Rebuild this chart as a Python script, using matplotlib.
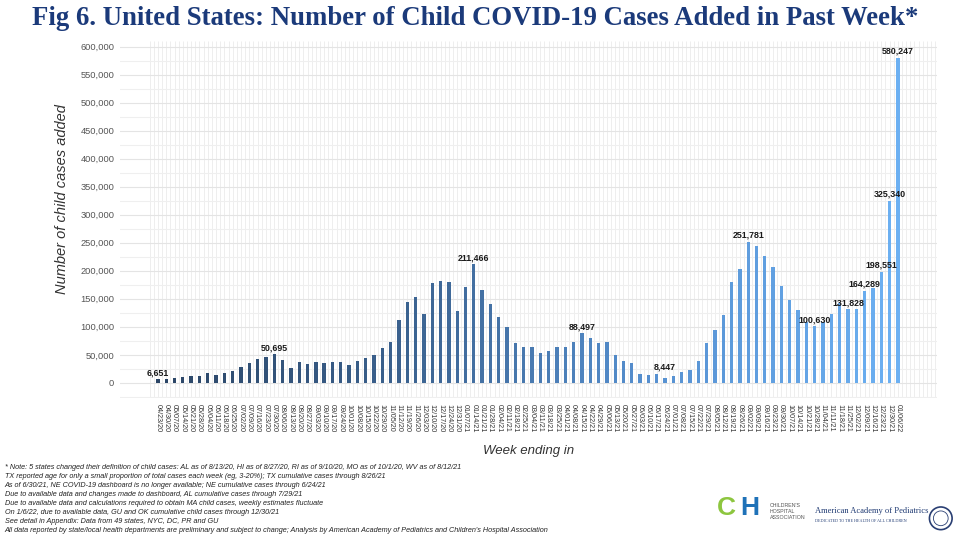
import numpy as np
import pandas as pd
import matplotlib
matplotlib.use("Agg")
import matplotlib.pyplot as plt
from matplotlib.colors import LinearSegmentedColormap
from matplotlib.transforms import ScaledTranslation
from matplotlib.patches import Circle

# weekly child cases added, week ending 04/23/20 .. 01/06/22
weeks = pd.date_range("2020-04-23", periods=90, freq="7D").strftime("%m/%d/%y").tolist()
cases = [6651, 7200, 9000, 9600, 11400, 12000, 17500, 13800, 18000, 22000,
         27700, 35000, 42000, 46000, 50695, 41500, 26000, 36700, 34000, 36400,
         35000, 37600, 36400, 32000, 39000, 43600, 49500, 61500, 73400, 111946,
         144500, 153000, 123600, 179000, 182000, 180000, 128000, 171000, 211466, 166000,
         140000, 117600, 99000, 70400, 64000, 64000, 52500, 56700, 64000, 64000,
         73400, 88497, 79400, 72000, 72800, 50000, 39700, 35000, 16000, 14400,
         16000, 8447, 11400, 19000, 23500, 39000, 72000, 95000, 121000, 180000,
         204000, 251781, 244800, 227000, 207000, 173700, 148000, 130700, 109000, 100630,
         109000, 122000, 141905, 131828, 132000, 164289, 169964, 198551, 325340, 580247]
labelled = [0, 14, 38, 51, 61, 71, 79, 83, 85, 87, 88, 89]

notes = [
    "* Note: 5 states changed their definition of child cases: AL as of 8/13/20, HI as of 8/27/20, RI as of 9/10/20, MO as of 10/1/20, WV as of 8/12/21",
    "TX reported age for only a small proportion of total cases each week (eg, 3-20%); TX cumulative cases through 8/26/21",
    "As of 6/30/21, NE COVID-19 dashboard is no longer available; NE cumulative cases through 6/24/21",
    "Due to available data and changes made to dashboard, AL cumulative cases through 7/29/21",
    "Due to available data and calculations required to obtain MA child cases, weekly estimates fluctuate",
    "On 1/6/22, due to available data, GU and OK cumulative child cases through 12/30/21",
    "See detail in Appendix: Data from 49 states, NYC, DC, PR and GU",
    "All data reported by state/local health departments are preliminary and subject to change; Analysis by American Academy of Pediatrics and Children's Hospital Association",
]

plt.rcParams["font.family"] = ["Liberation Sans", "DejaVu Sans"]

fig = plt.figure(figsize=(9.59, 5.36), dpi=100)
ax = fig.add_axes([0.125, 0.2575, 0.852, 0.666])

x = np.arange(len(cases))
cmap = LinearSegmentedColormap.from_list("blues", ["#2b4566", "#3b628f", "#5690d0", "#6cb0f2"])
colors = [cmap(i / (len(cases) - 1)) for i in x]
ax.bar(x, cases, width=0.4, color=colors, zorder=3)

for i in labelled:
    off = 3500 if i != 61 else 12000
    ax.text(i, cases[i] + off, f"{cases[i]:,}", ha="center", va="bottom",
            fontsize=6.4, fontweight="bold", color="#1a1a1a", zorder=4)

ax.set_xlim(-4.57, 93.7)
ax.set_ylim(-27000, 610000)

ax.set_yticks(np.arange(0, 600001, 50000))
ax.set_yticks(np.arange(-25000, 600001, 50000), minor=True)
ax.set_yticklabels([f"{v:,}" for v in range(0, 600001, 50000)], fontsize=6.7, color="#555555")
ax.grid(axis="y", which="major", color="#e4e4e4", lw=0.8, zorder=0)
ax.grid(axis="y", which="minor", color="#efefef", lw=0.8, zorder=0)
ax.vlines(np.arange(-1, 94.01, 0.5), -27000, 610000, color="#eeeeee", lw=0.7, zorder=1)

ax.set_xticks(x)
ax.set_xticklabels(weeks, rotation=270, fontsize=5.2, color="#333333")
for lbl in ax.get_xticklabels():
    lbl.set_transform(lbl.get_transform() + ScaledTranslation(4 / 72, 0, fig.dpi_scale_trans))
ax.tick_params(axis="both", which="both", length=0)
ax.tick_params(axis="x", pad=4)
ax.tick_params(axis="y", pad=4)
for s in ax.spines.values():
    s.set_visible(False)

fig.text(0.496, 0.965, "Fig 6. United States: Number of Child COVID-19 Cases Added in Past Week*",
         ha="center", va="center", fontsize=19.3, fontweight="bold", color="#1b3a7a",
         family="Liberation Serif")
fig.text(0.065, 0.628, "Number of child cases added", rotation=90, ha="center", va="center",
         fontsize=10.5, style="italic", color="#333333")
fig.text(0.551, 0.158, "Week ending in", ha="center", va="center",
         fontsize=9.5, style="italic", color="#333333")

for k, line in enumerate(notes):
    fig.text(0.005, 0.128 - k * 0.0168, line, ha="left", va="center", fontsize=5.2,
             style="italic", color="#222222")

# logos (approximated)
fig.text(0.748, 0.03, "C", fontsize=19, fontweight="bold", color="#8dc63f", va="bottom")
fig.text(0.772, 0.03, "H", fontsize=19, fontweight="bold", color="#1f72b8", va="bottom")
fig.text(0.803, 0.03, "CHILDREN'S\nHOSPITAL\nASSOCIATION", fontsize=3.8, color="#555555",
         va="bottom", linespacing=1.3)
fig.text(0.85, 0.04, "American Academy of Pediatrics", fontsize=6.1, color="#1f3a73",
         va="bottom", family="Liberation Serif")
fig.text(0.85, 0.024, "DEDICATED TO THE HEALTH OF ALL CHILDREN", fontsize=3.0, color="#1f3a73",
         va="bottom", family="Liberation Serif")
seal = fig.add_axes([0.968, 0.008, 0.026, 0.05])
seal.set_aspect("equal")
seal.add_patch(Circle((0, 0), 1, fill=False, edgecolor="#2a3f73", lw=1.2))
seal.add_patch(Circle((0, 0), 0.65, fill=False, edgecolor="#2a3f73", lw=0.6))
seal.set_xlim(-1.1, 1.1)
seal.set_ylim(-1.1, 1.1)
seal.axis("off")

fig.savefig("out.png", dpi=100)
